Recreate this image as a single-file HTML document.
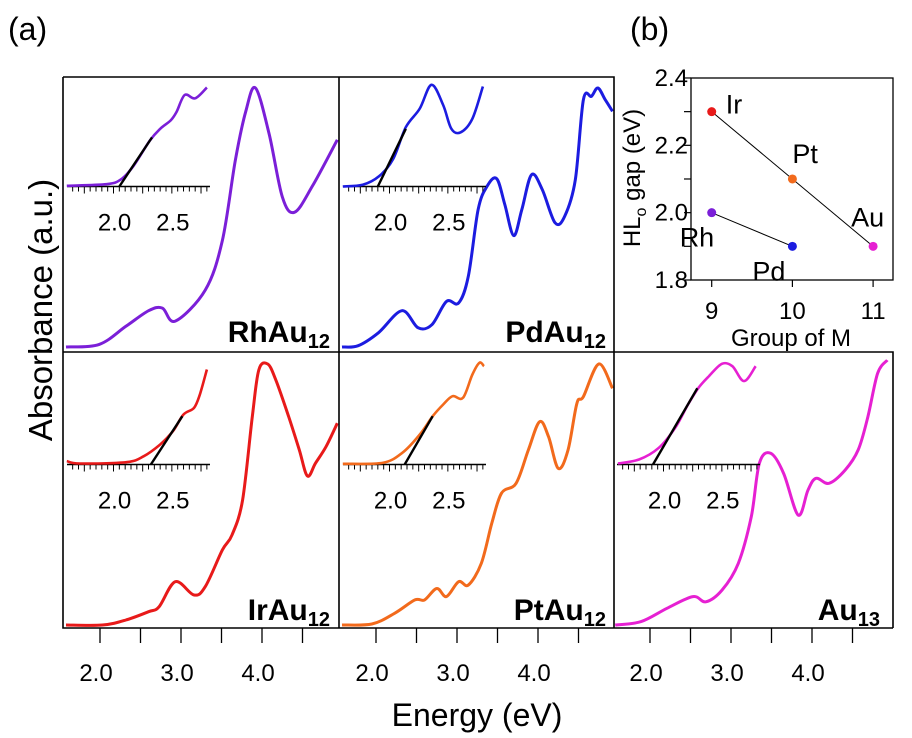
<!DOCTYPE html>
<html><head><meta charset="utf-8"><style>
body{margin:0;background:#fff;}
svg{display:block;font-family:"Liberation Sans",Arial,sans-serif;}
</style></head><body>
<svg id="fig" width="912" height="738" viewBox="0 0 912 738"></svg>
<script>
const NS="http://www.w3.org/2000/svg";
const svg=document.getElementById('fig');
// ---- data: main spectra (energy eV, normalized absorbance) ----
const rhE=[1.58,1.99,2.32,2.60,2.77,2.93,3.30,3.51,3.67,3.80,3.92,4.09,4.25,4.40,4.62,4.93];
const rhA=[0,.01,.08,.14,.15,.10,.22,.41,.72,.91,1.0,.82,.58,.52,.62,.80];
const pdE=[1.58,1.78,2.03,2.32,2.52,2.69,2.87,3.02,3.14,3.26,3.37,3.49,3.59,3.70,3.80,3.92,4.05,4.21,4.33,4.46,4.56,4.66,4.74,4.83,4.92];
const pdA=[0,.005,.055,.14,.074,.086,.176,.17,.273,.53,.62,.65,.55,.43,.53,.665,.61,.48,.505,.645,.955,.968,1.0,.955,.91];
const irE=[1.58,2.03,2.32,2.60,2.73,2.93,3.16,3.30,3.51,3.63,3.76,3.88,3.96,4.07,4.17,4.33,4.46,4.56,4.66,4.79,4.93];
const irA=[0,0,.019,.051,.07,.166,.115,.147,.287,.345,.479,.798,.977,1.0,.939,.798,.671,.571,.62,.683,.773];
const ptE=[1.58,1.95,2.23,2.48,2.60,2.75,2.87,3.02,3.14,3.30,3.43,3.55,3.73,3.88,4.02,4.13,4.25,4.37,4.48,4.56,4.75,4.92];
const ptA=[0,.004,.045,.096,.096,.14,.109,.166,.153,.236,.39,.505,.543,.67,.779,.722,.6,.67,.849,.875,1.0,.907];
const auE=[1.57,1.89,2.21,2.53,2.69,2.89,3.09,3.25,3.35,3.49,3.65,3.83,3.95,4.05,4.21,4.41,4.57,4.69,4.81,4.93];
const auA=[0,.013,.064,.109,.089,.134,.236,.415,.62,.658,.581,.421,.517,.562,.543,.594,.671,.798,.964,1.015];
// ---- data: inset spectra ----
const rhInE=[1.60,1.94,2.06,2.17,2.31,2.40,2.49,2.54,2.61,2.70,2.80];
const rhInA=[.007,.023,.067,.2,.45,.567,.65,.733,.9,.867,.973];
const pdInE=[1.60,1.77,1.91,2.03,2.14,2.26,2.36,2.46,2.53,2.61,2.71,2.80];
const pdInA=[0,.017,.1,.267,.583,.767,1.0,.8,.567,.533,.667,.983];
const irInE=[1.60,1.71,2.11,2.26,2.40,2.51,2.60,2.69,2.74,2.80];
const irInA=[.033,.01,.023,.082,.197,.328,.492,.557,.689,.934];
const ptInE=[1.60,1.94,2.11,2.26,2.37,2.46,2.54,2.63,2.71,2.77,2.81];
const ptInA=[.007,.016,.115,.295,.475,.59,.672,.656,.885,1.0,.967];
const auInE=[1.61,1.79,1.96,2.10,2.21,2.30,2.39,2.50,2.59,2.69,2.79];
const auInA=[.01,.049,.164,.361,.59,.754,.869,.99,.967,.82,.967];
// tangent lines [E0,E1,A1]
const rhTan=[2.05,2.33,.483];
const pdTan=[1.90,2.14,.567];
const irTan=[2.32,2.59,.475];
const ptTan=[2.13,2.37,.475];
const auTan=[1.91,2.29,.75];
// ---- data: panel (b) ----
const bGroups=[9,10,11];
const bTicks=[1.8,2.0,2.2,2.4];
const gapGroup=[9,10,11,9,10];
const gapVal=[2.3,2.1,1.9,2.0,1.9];
const gapNames=['Ir','Pt','Au','Rh','Pd'];
const mainTicks=[2.0,3.0,4.0];
const insetTicks=[2.0,2.5];

function el(tag,attrs,parent){const e=document.createElementNS(NS,tag);for(const k in attrs)e.setAttribute(k,attrs[k]);(parent||svg).appendChild(e);return e;}
function smooth(pts){let d=`M${pts[0][0].toFixed(1)},${pts[0][1].toFixed(1)}`;
 for(let i=0;i<pts.length-1;i++){const p0=pts[i-1]||pts[i],p1=pts[i],p2=pts[i+1],p3=pts[i+2]||p2;
  const c1=[p1[0]+(p2[0]-p0[0])/6,p1[1]+(p2[1]-p0[1])/6],c2=[p2[0]-(p3[0]-p1[0])/6,p2[1]-(p3[1]-p1[1])/6];
  d+=`C${c1[0].toFixed(1)},${c1[1].toFixed(1)} ${c2[0].toFixed(1)},${c2[1].toFixed(1)} ${p2[0].toFixed(1)},${p2[1].toFixed(1)}`;}
 return d;}

const panels=[
 {id:'rhau12',L:63,base:347,H:259,E:rhE,A:rhA,iE:rhInE,iA:rhInA,t:rhTan,c:'#7b1fd8',nm:'RhAu',sub:'12'},
 {id:'pdau12',L:339,base:347,H:259,E:pdE,A:pdA,iE:pdInE,iA:pdInA,t:pdTan,c:'#1c1ce0',nm:'PdAu',sub:'12'},
 {id:'irau12',L:63,base:625,H:261,E:irE,A:irA,iE:irInE,iA:irInA,t:irTan,c:'#e81a1a',nm:'IrAu',sub:'12'},
 {id:'ptau12',L:339,base:625,H:261,E:ptE,A:ptA,iE:ptInE,iA:ptInA,t:ptTan,c:'#f26a1c',nm:'PtAu',sub:'12'},
 {id:'au13',L:613,base:625,H:261,E:auE,A:auA,iE:auInE,iA:auInA,t:auTan,c:'#e620d2',nm:'Au',sub:'13'}];

panels.forEach(p=>{
 const g=el('g',{});
 
 
 const xs=E=>p.L+37+(E-2)*81, ys=a=>p.base-a*p.H;
 const cp=el('clipPath',{id:'c'+p.id},g);el('rect',{x:p.L,y:p.base-p.H-12,width:276,height:p.H+20},cp);
 const path=el('path',{d:smooth(p.E.map((e,i)=>[xs(e),ys(p.A[i])])),fill:'none',stroke:p.c,'stroke-width':3,'clip-path':`url(#c${p.id})`},g);
 
 
 // inset
 const ay=p.base-160.5, ix=E=>p.L+50.5+(E-2)*116.7, iy=a=>ay-a*101.7;
 const ig=el('g',{},g);
 
 
 el('line',{x1:p.L+4,x2:p.L+147,y1:ay,y2:ay,stroke:'#000','stroke-width':1.5},ig);
 for(let k=0;k<=24;k++){const E=1.6+k*0.05;const x=ix(E);if(x<p.L+4||x>p.L+148)continue;
  const major=Math.abs((E*4)-Math.round(E*4))<1e-6;
  el('line',{x1:x,x2:x,y1:ay,y2:ay+(major?7:5),stroke:'#000','stroke-width':1},ig);}
 insetTicks.forEach(v=>{const t=el('text',{x:ix(v)+1,y:ay+44,'font-size':24,'text-anchor':'middle'},ig);t.textContent=v.toFixed(1);});
 el('path',{d:smooth(p.iE.map((e,i)=>[ix(e),iy(p.iA[i])])),fill:'none',stroke:p.c,'stroke-width':2.6},ig);
 const tl=el('line',{x1:ix(p.t[0]),y1:ay,x2:ix(p.t[1]),y2:iy(p.t[2]),stroke:'#000','stroke-width':2.4},ig);
 
 
 const lb=el('text',{x:p.L+267,y:p.base-5,'font-size':30,'font-weight':'bold','text-anchor':'end'},g);
 
 
 lb.innerHTML=`${p.nm}<tspan font-size="20" dy="6">${p.sub}</tspan>`;
});

// frame
const fr=el('path',{d:'M63,77H614V628M339,77V628M63,352H893V628M63,77V628H893',fill:'none',stroke:'#000','stroke-width':1.6});


// bottom ticks
[63,339,613].forEach(L=>{
 const xs=E=>L+37+(E-2)*81;
 for(let E=2.0;E<=4.51;E+=0.5){el('line',{x1:xs(E),x2:xs(E),y1:628,y2:643,stroke:'#000','stroke-width':1.3});}
 mainTicks.forEach(v=>{const t=el('text',{x:xs(v)-4,y:681,'font-size':24,'text-anchor':'middle'});
  
  
  t.textContent=v.toFixed(1);});
});
let t=el('text',{x:477,y:726,'font-size':32,'text-anchor':'middle'});t.textContent='Energy (eV)';

t=el('text',{x:0,y:0,'font-size':33,'text-anchor':'middle',transform:'translate(52,310) rotate(-90)'});t.textContent='Absorbance (a.u.)';

t=el('text',{x:8,y:40,'font-size':32});t.textContent='(a)';

t=el('text',{x:630,y:40,'font-size':32});t.textContent='(b)';


// panel b
const bx=g=>711.7+(g-9)*80.7, by=v=>280-(v-1.8)*336.7;
const bg=el('g',{});


el('rect',{x:691,y:78,width:202,height:202,fill:'none',stroke:'#000','stroke-width':1.3},bg);
for(let v=1.8;v<=2.401;v+=0.1){el('line',{x1:691,x2:684,y1:by(v),y2:by(v),stroke:'#000','stroke-width':1.2},bg);}
bTicks.forEach(v=>{const tt=el('text',{x:688,y:by(v)+8,'font-size':24,'text-anchor':'end'},bg);tt.textContent=v.toFixed(1);});
bGroups.forEach(gv=>{el('line',{x1:bx(gv),x2:bx(gv),y1:280,y2:287,stroke:'#000','stroke-width':1.2},bg);
 const tt=el('text',{x:bx(gv),y:319,'font-size':24,'text-anchor':'middle'},bg);tt.textContent=gv;});
t=el('text',{x:791,y:346,'font-size':24,'text-anchor':'middle'},bg);t.textContent='Group of M';

t=el('text',{x:0,y:0,'font-size':24,'text-anchor':'middle',transform:'translate(640,178) rotate(-90)'},bg);
t.innerHTML='HL<tspan font-size="16" dy="6">o</tspan><tspan dy="-6"> gap (eV)</tspan>';

el('line',{x1:bx(gapGroup[0]),y1:by(gapVal[0]),x2:bx(gapGroup[2]),y2:by(gapVal[2]),stroke:'#000','stroke-width':1},bg);
el('line',{x1:bx(gapGroup[3]),y1:by(gapVal[3]),x2:bx(gapGroup[4]),y2:by(gapVal[4]),stroke:'#000','stroke-width':1},bg);
const bcol=['#e81a1a','#f26a1c','#e620d2','#7b1fd8','#1c1ce0'];
const loff=[[14,-6],[0,-24],[-22,-28],[-32,26],[-40,26]];
gapGroup.forEach((gv,i)=>{
 const c=el('circle',{cx:bx(gv),cy:by(gapVal[i]),r:4.5,fill:bcol[i]},bg);
 
 
 const tt=el('text',{x:bx(gv)+loff[i][0],y:by(gapVal[i])+loff[i][1]+8,'font-size':27},bg);tt.textContent=gapNames[i];
});
</script>
</body></html>
